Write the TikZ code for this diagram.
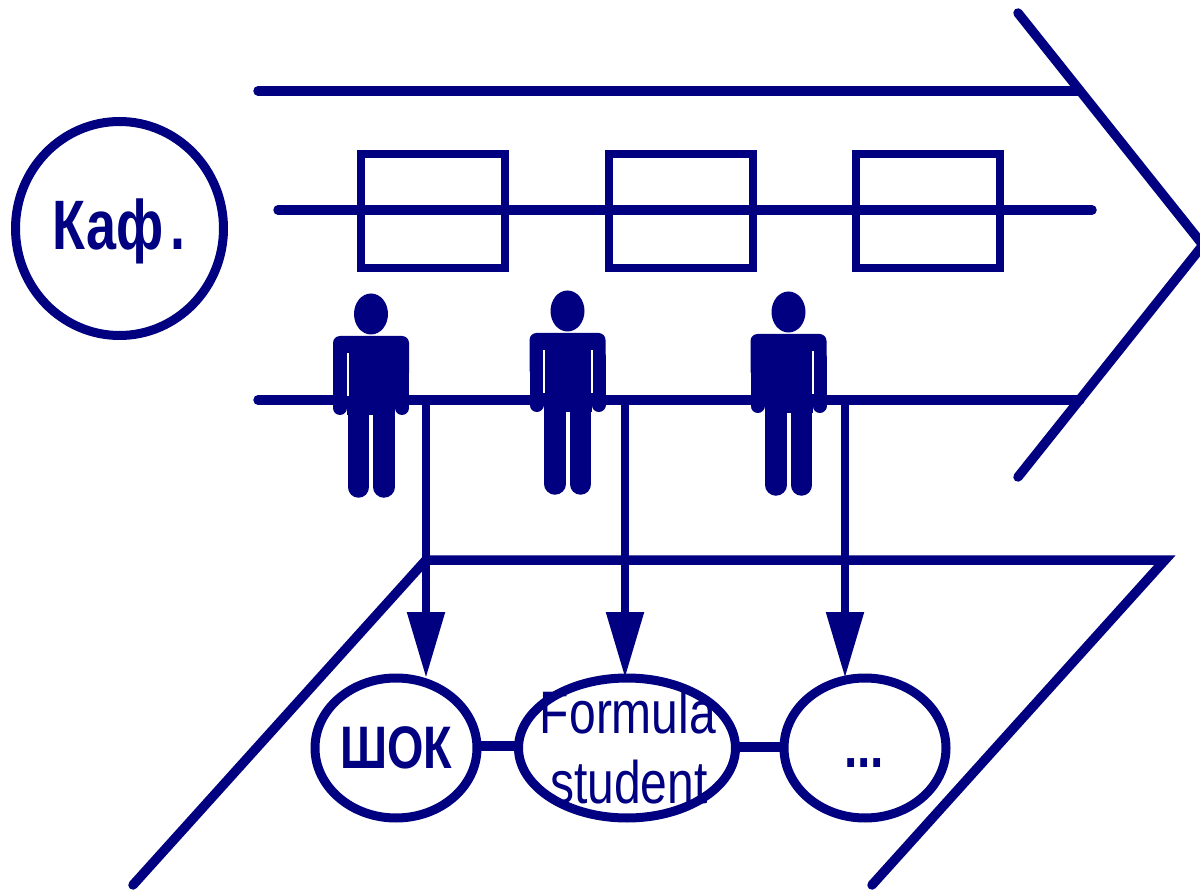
\documentclass[tikz,border=0pt]{standalone}
\usepackage{fontspec}
\setmainfont{Liberation Sans}
\usetikzlibrary{arrows.meta,shapes.geometric}
\definecolor{ink}{HTML}{000080}
\tikzset{
  ln/.style={draw=ink,line width=9.5pt,line cap=round,line join=miter},
  stem/.style={draw=ink,line width=8.5pt,-{Triangle[length=66pt,width=36pt]}},
  link/.style={draw=ink,line width=10pt},
  ringnode/.style={ellipse,draw=ink,line width=9pt,inner sep=0pt,outer sep=0pt,text=ink},
  lab/.style={text=ink,inner sep=0pt,anchor=base},
  boxnode/.style={rectangle,draw=ink,line width=8pt,minimum width=144pt,minimum height=114pt,inner sep=0pt},
  pics/person/.style n args={2}{code={
    \fill[ink] (0,-86) ellipse [x radius=17,y radius=20.5];
    \fill[ink,rounded corners=7pt] (-38,-64) -- (38,-64) -- (38,-20) -- (-38,-20) -- cycle;
    \fill[ink] (-24,-40) rectangle (24,15);
    \draw[ink,line width=14pt,line cap=round] (-31,-40) -- (-31,8);
    \draw[ink,line width=14pt,line cap=round] (31,-40) -- (31,8);
    \draw[ink,line width=21.5pt,line cap=round] (-12.5,15) -- (-12.5,87);
    \draw[ink,line width=21.5pt,line cap=round] (13,15) -- (13,87);
    \fill[white,opacity=#1] (-24.5,-47) rectangle (-22.5,-4);
    \fill[white,opacity=#2] (23.5,-47) rectangle (25.5,-4);
  }}
}
\newcommand{\sq}[3]{\scalebox{#1}[1]{\fontsize{#2}{#2}\selectfont #3}}
\begin{document}
\begin{tikzpicture}[x=1pt,y=-1pt]
\useasboundingbox (0,0) rectangle (1200,890);
\begin{scope}
\clip (0,0) rectangle (1200,890);
% outer arrow outline
\coordinate (t1) at (258,91);
\coordinate (t2) at (1080,91);
\coordinate (c1) at (1018,13);
\coordinate (c2) at (1203,245);
\coordinate (c3) at (1018,477);
\coordinate (m1) at (278,210);
\coordinate (m2) at (1092,210);
\coordinate (b1) at (258,400);
\coordinate (b2) at (1080,400);
\draw[ln] (t1) -- (t2);
\draw[ln] (c1) -- (c2) -- (c3);
\draw[ln] (b1) -- (b2);
% boxes
\node[boxnode] (r1) at (433,211) {};
\node[boxnode] (r2) at (681,211) {};
\node[boxnode] (r3) at (928,211) {};
\draw[ln] (m1) -- (m2);
% department
\node[ringnode,minimum width=208pt,minimum height=214pt] (kaf) at (119.5,228.5) {};
\node[lab] (kaft) at (119,250) {\bfseries\sq{.77}{70}{Каф\kern 9pt.}};
% lower shape
\coordinate (l1) at (426,560);
\coordinate (l2) at (1165,560);
\coordinate (l3) at (133,885);
\coordinate (l4) at (872,885);
\draw[ln] (l3) -- (l1) -- (l2) -- (l4);
% ellipses
\node[ringnode,minimum width=162pt,minimum height=140pt] (shok) at (396,748) {};
\node[ringnode,minimum width=217pt,minimum height=140pt] (fs) at (627,748) {};
\node[ringnode,minimum width=162pt,minimum height=140pt] (dots) at (865,748) {};
\node[lab] (shokt) at (396,768) {\bfseries\sq{.78}{60}{ШОК}};
\node[lab] (fst1) at (628,733) {\sq{.8}{60}{Formula}};
\node[lab] (fst2) at (629,803) {\sq{.8}{60}{student}};
\node[lab] (dotst) at (864,767) {\bfseries\sq{.8}{60}{...}};
\draw[link] ([yshift=2.5pt]shok.east) -- ([yshift=2.5pt]fs.west);
\draw[link] ([yshift=1pt]fs.east) -- ([yshift=1pt]dots.west);
% arrows
\coordinate (a1) at (426,400);
\coordinate (a2) at (625,400);
\coordinate (a3) at (845,396);
\draw[stem] (a1) -- (a1 |- shok.north);
\draw[stem] (a2) -- (a2 |- fs.north);
\draw[stem] (a3) -- (a3 |- dots.north);
% people
\pic at (371,400) {person={1}{0}};
\pic at (567.5,397) {person={1}{1}};
\pic at (788.5,398) {person={0}{1}};
\end{scope}
\end{tikzpicture}
\end{document}
